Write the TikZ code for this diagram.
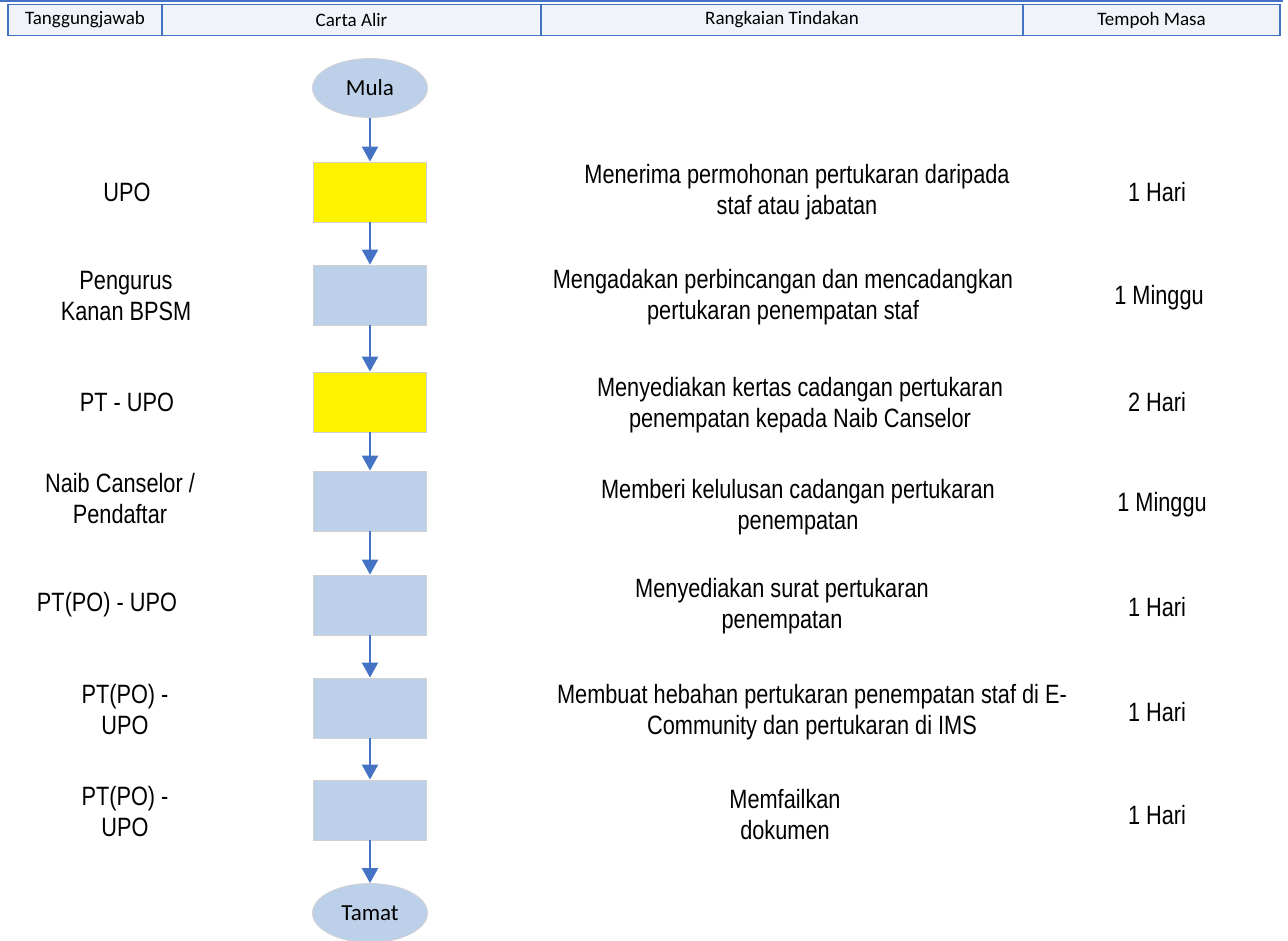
\documentclass[tikz,border=0pt]{standalone}
\usepackage{fontspec}
\setmainfont{Liberation Sans}
\newfontfamily\bodyfont[FakeStretch=0.82]{Liberation Sans}
\newfontfamily\calib{Carlito}
\usetikzlibrary{shapes.geometric,arrows.meta}
\definecolor{hdrblue}{HTML}{4472C4}
\definecolor{boxblue}{HTML}{BDD0E9}
\definecolor{hdrfill}{HTML}{F0F3FA}
\begin{document}
\begin{tikzpicture}[x=1pt,y=-1pt,
 stepbox/.style={draw=black!18, line width=0.8pt, minimum width=113pt, minimum height=60pt, inner sep=0pt},
 yellowbox/.style={stepbox, fill=yellow},
 bluebox/.style={stepbox, fill=boxblue},
 term/.style={ellipse, draw=black!18, line width=0.8pt, fill=boxblue, minimum width=115pt, minimum height=59pt, inner sep=0pt, font=\calib\fontsize{23}{26}\selectfont},
 flow/.style={draw=hdrblue, line width=2pt, -{Triangle[width=16pt,length=15pt]}},
 lbl/.style={align=center, inner sep=0pt, font=\bodyfont\fontsize{26.5}{31}\selectfont},
 hdr/.style={draw=hdrblue, line width=1.6pt, fill=hdrfill, inner sep=0pt, minimum height=31pt, font=\calib\fontsize{19}{22}\selectfont}
]
\useasboundingbox (0,0) rectangle (1288,941);
\fill[white] (0,0) rectangle (1288,941);
% header
\draw[hdrblue, line width=1.5pt] (0,1) -- (1283,1);
\node[hdr, minimum width=154pt] (h1) at (85,20) {Tanggungjawab};
\node[hdr, minimum width=379pt] (h2) at (351.5,20) {Carta Alir};
\node[hdr, minimum width=482pt] (h3) at (782,20) {Rangkaian Tindakan};
\node[hdr, minimum width=257pt] (h4) at (1151.5,20) {Tempoh Masa};
% flow
\node[term] (mula) at (370,88) {Mula};
\node[yellowbox] (b1) at (370,192) {};
\node[bluebox] (b2) at (370,295) {};
\node[yellowbox] (b3) at (370,402) {};
\node[bluebox] (b4) at (370,501) {};
\node[bluebox] (b5) at (370,605) {};
\node[bluebox] (b6) at (370,708) {};
\node[bluebox] (b7) at (370,810) {};
\node[term] (tamat) at (370,913) {Tamat};
\draw[flow] (mula) -- (b1);
\draw[flow] (b1) -- (b2);
\draw[flow] (b2) -- (b3);
\draw[flow] (b3) -- (b4);
\draw[flow] (b4) -- (b5);
\draw[flow] (b5) -- (b6);
\draw[flow] (b6) -- (b7);
\draw[flow] (b7) -- (tamat);
% responsibility
\node[lbl] (r1) at (127,192) {UPO};
\node[lbl] (r2) at (126,296) {Pengurus\\Kanan BPSM};
\node[lbl] (r3) at (127,402) {PT - UPO};
\node[lbl] (r4) at (120,499) {Naib Canselor /\\Pendaftar};
\node[lbl] (r5) at (107,605) {PT(PO) - UPO};
\node[lbl] (r6) at (125,710) {PT(PO) -\\UPO};
\node[lbl] (r7) at (125,812) {PT(PO) -\\UPO};
% actions
\node[lbl] (a1) at (797,192) {Menerima permohonan pertukaran daripada\\staf atau jabatan};
\node[lbl] (a2) at (783,297) {Mengadakan perbincangan dan mencadangkan\\pertukaran penempatan staf};
\node[lbl] (a3) at (800,405) {Menyediakan kertas cadangan pertukaran\\penempatan kepada Naib Canselor};
\node[lbl] (a4) at (798,507) {Memberi kelulusan cadangan pertukaran\\penempatan};
\node[lbl] (a5) at (782,606) {Menyediakan surat pertukaran\\penempatan};
\node[lbl] (a6) at (812,712) {Membuat hebahan pertukaran penempatan staf di E-\\Community dan pertukaran di IMS};
\node[lbl] (a7) at (785,815) {Memfailkan\\dokumen};
% durations
\node[lbl] (t1) at (1157,192) {1 Hari};
\node[lbl] (t2) at (1159,298) {1 Minggu};
\node[lbl] (t3) at (1157,402) {2 Hari};
\node[lbl] (t4) at (1162,505) {1 Minggu};
\node[lbl] (t5) at (1157,607) {1 Hari};
\node[lbl] (t6) at (1157,712) {1 Hari};
\node[lbl] (t7) at (1157,815) {1 Hari};
\end{tikzpicture}
\end{document}
